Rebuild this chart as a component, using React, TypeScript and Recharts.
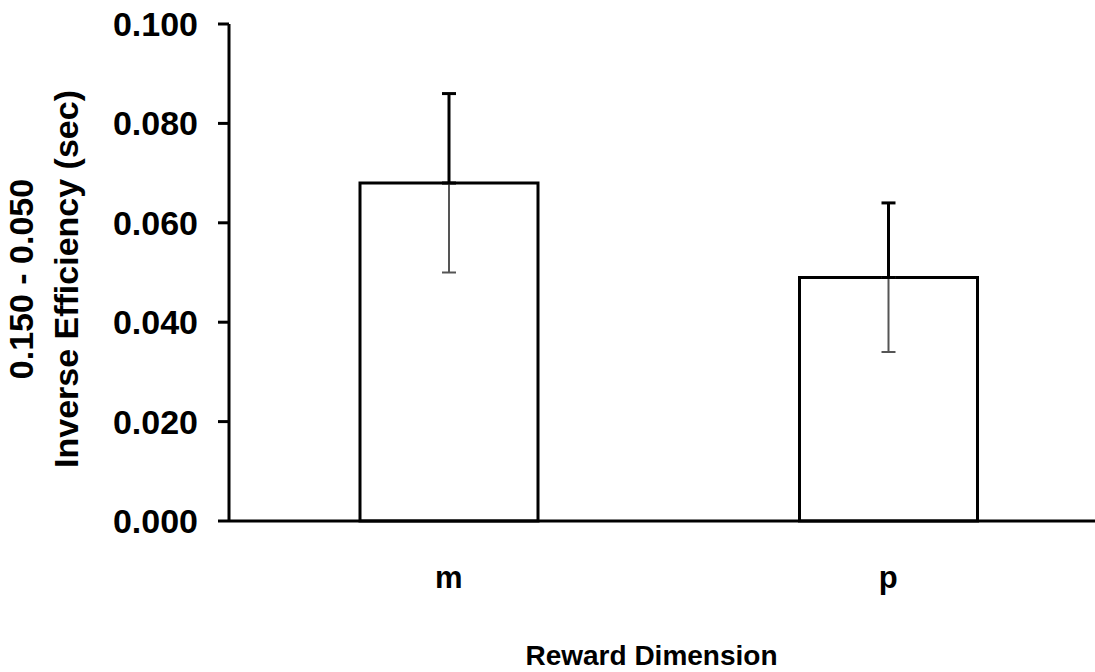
import { BarChart, Bar, XAxis, YAxis, ErrorBar } from "recharts";

// reward dimensions and mean inverse-efficiency difference per dimension
const dimensions = ["m", "p"];
const means = [0.068, 0.049];
const errDown = [0.018, 0.015];
const errUp = [0.018, 0.015];
const yTicks = [0, 0.02, 0.04, 0.06, 0.08, 0.1];

const data = dimensions.map((name, i) => ({
  name,
  mean: means[i],
  below: [errDown[i], 0],
  above: [0, errUp[i]],
}));

const FONT = "'Liberation Sans', Arial, Helvetica, sans-serif";

const YTitle = () => (
  <g transform="translate(0, 279) rotate(-90)">
    <text textAnchor="middle" fontFamily={FONT} fontWeight="bold" fontSize={34} fill="#000">
      <tspan x={0} y={33}>0.150 - 0.050</tspan>
      <tspan x={0} y={78}>Inverse Efficiency (sec)</tspan>
    </text>
  </g>
);

export default function App() {
  return (
    <div style={{ position: "absolute", left: 0, top: 0, width: 1095, height: 672, overflow: "hidden", background: "#fff" }}>
      <BarChart width={1120} height={672} data={data} margin={{ top: 24, right: 12, bottom: 0, left: 0 }} barSize={178}>
        <XAxis
          dataKey="name"
          height={151}
          axisLine={{ stroke: "#000", strokeWidth: 3 }}
          tickLine={false}
          tickSize={0}
          tickMargin={45}
          tick={{ fill: "#000", fontSize: 31, fontWeight: "bold", fontFamily: FONT }}
          label={{ value: "Reward Dimension", position: "insideBottom", offset: 7, dx: -17, fill: "#000", fontSize: 28, fontWeight: "bold", fontFamily: FONT }}
        />
        <YAxis
          width={229}
          domain={[0, 0.1]}
          ticks={yTicks}
          interval={0}
          tickFormatter={(v: number) => v.toFixed(3)}
          axisLine={{ stroke: "#000", strokeWidth: 3 }}
          tickLine={{ stroke: "#000", strokeWidth: 3 }}
          tickSize={11}
          tickMargin={20}
          tick={{ fill: "#000", fontSize: 34, fontWeight: "bold", fontFamily: FONT }}
          label={{ content: YTitle }}
        />
        <Bar dataKey="mean" fill="#fff" stroke="#000" strokeWidth={3} isAnimationActive={false}>
          <ErrorBar dataKey="below" width={7} stroke="#555" strokeWidth={2} isAnimationActive={false} />
          <ErrorBar dataKey="above" width={7} stroke="#000" strokeWidth={3} isAnimationActive={false} />
        </Bar>
      </BarChart>
    </div>
  );
}
